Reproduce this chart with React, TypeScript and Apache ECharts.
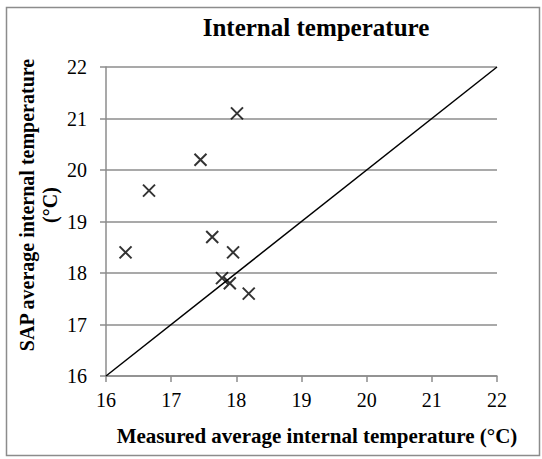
import React, { useEffect, useRef } from "react";
import * as echarts from "echarts";

const chartTitle = "Internal temperature";
const xAxisTitle = "Measured average internal temperature (°C)";
const yAxisTitleLines = ["SAP average internal temperature", "(°C)"];

const measured = [16.3, 16.66, 17.45, 18.01, 17.63, 17.95, 17.78, 17.9, 18.19];
const sap = [18.4, 19.6, 20.2, 21.1, 18.7, 18.4, 17.9, 17.8, 17.6];
const lineX = [16, 22];
const lineY = [16, 22];
const axisMin = 16;
const axisMax = 22;
const axisStep = 1;

const FONT = "Liberation Serif";

export default function App() {
  const ref = useRef<HTMLDivElement>(null);
  useEffect(() => {
    if (!ref.current) return;
    const chart = echarts.init(ref.current, null, { renderer: "svg" });
    const points = measured.map((x, i) => [x, sap[i]]);
    const line = lineX.map((x, i) => [x, lineY[i]]);
    chart.setOption({
      animation: false,
      backgroundColor: "#ffffff",
      textStyle: { fontFamily: FONT },
      grid: { left: 106, top: 67, right: 45, bottom: 83, containLabel: false },
      xAxis: {
        type: "value",
        min: axisMin,
        max: axisMax,
        interval: axisStep,
        axisLine: { show: true, lineStyle: { color: "#8c8c8c", width: 1.5 } },
        axisTick: { show: true, inside: false, length: 6, lineStyle: { color: "#8c8c8c", width: 1.5 } },
        axisLabel: { color: "#000", fontFamily: FONT, fontSize: 20, margin: 14 },
        splitLine: { show: false },
      },
      yAxis: {
        type: "value",
        min: axisMin,
        max: axisMax,
        interval: axisStep,
        axisLine: { show: true, lineStyle: { color: "#8c8c8c", width: 1.5 } },
        axisTick: { show: true, inside: false, length: 6, lineStyle: { color: "#8c8c8c", width: 1.5 } },
        axisLabel: { color: "#000", fontFamily: FONT, fontSize: 20, margin: 19 },
        splitLine: { show: true, lineStyle: { color: "#8c8c8c", width: 1.5 } },
      },
      series: [
        {
          type: "line",
          data: line,
          symbol: "none",
          lineStyle: { color: "#000", width: 1.5 },
          silent: true,
          z: 2,
        },
        {
          type: "scatter",
          data: points,
          symbol: "path://M0,0L10,10M10,0L0,10",
          symbolSize: 12,
          itemStyle: { color: "transparent", borderColor: "#000", borderWidth: 2 },
          z: 3,
        },
      ],
      graphic: [
        {
          type: "rect",
          shape: { x: 6.5, y: 7.5, width: 533, height: 448 },
          style: { fill: "none", stroke: "#8c8c8c", lineWidth: 1.5 },
          silent: true,
        },
        {
          type: "text",
          x: 316,
          y: 27,
          style: {
            text: chartTitle,
            fill: "#000",
            font: `bold 25px ${FONT}`,
            align: "center",
            verticalAlign: "middle",
          },
        },
        {
          type: "text",
          x: 317,
          y: 436,
          style: {
            text: xAxisTitle,
            fill: "#000",
            font: `bold 21px ${FONT}`,
            align: "center",
            verticalAlign: "middle",
          },
        },
        {
          type: "text",
          x: 27,
          y: 205,
          rotation: Math.PI / 2,
          style: {
            text: yAxisTitleLines[0],
            fill: "#000",
            font: `bold 20px ${FONT}`,
            align: "center",
            verticalAlign: "middle",
          },
        },
        {
          type: "text",
          x: 50,
          y: 205,
          rotation: Math.PI / 2,
          style: {
            text: yAxisTitleLines[1],
            fill: "#000",
            font: `bold 20px ${FONT}`,
            align: "center",
            verticalAlign: "middle",
          },
        },
      ],
    });
    return () => chart.dispose();
  }, []);
  return (
    <div
      ref={ref}
      style={{ position: "absolute", left: 0, top: 0, width: 542, height: 459 }}
    />
  );
}
